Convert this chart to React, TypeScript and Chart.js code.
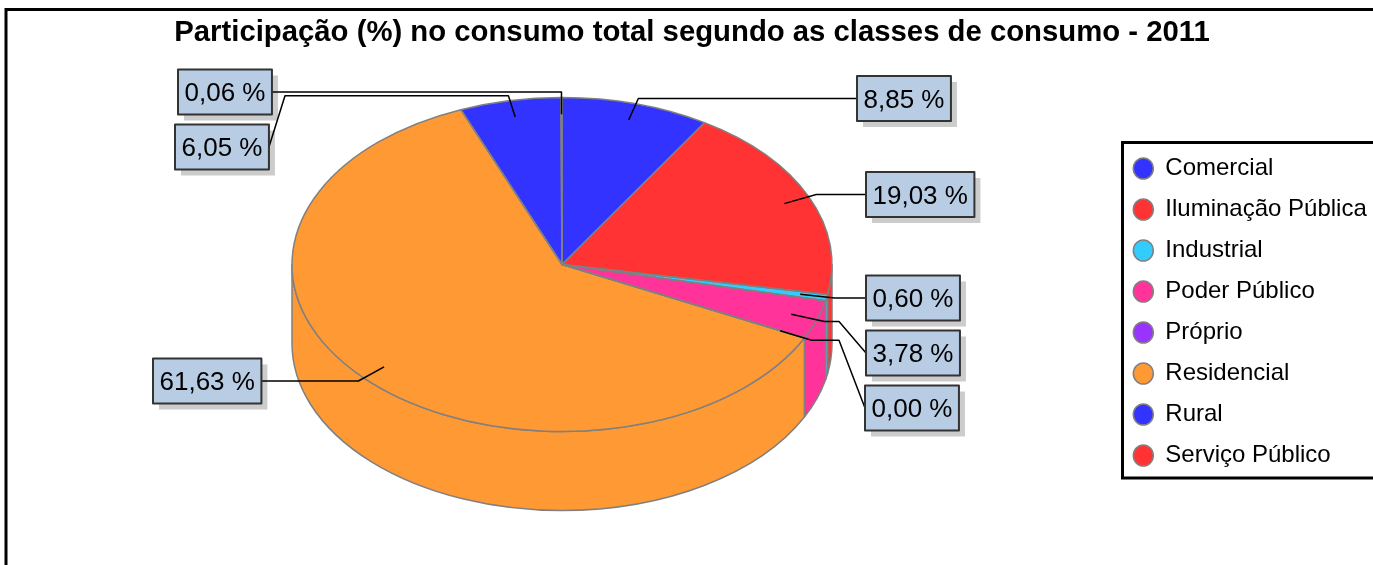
import React, { useEffect, useRef } from "react";
import { Chart, registerables } from "chart.js";

Chart.register(...registerables);

const chartTitle = "Participação (%) no consumo total segundo as classes de consumo - 2011";
const categories = ["Comercial", "Iluminação Pública", "Industrial", "Poder Público", "Próprio", "Residencial", "Rural", "Serviço Público"];
const shareValues = [8.85, 19.03, 0.6, 3.78, 0.0, 61.63, 6.05, 0.06];
const sliceColors = ["#3333ff", "#ff3333", "#33ccff", "#ff3399", "#9933ff", "#ff9933", "#3333ff", "#ff3333"];

// Layout of the value call-outs (same order as categories): box left, box top, optional knee x
const calloutLeft = [857, 866, 866, 866, 865, 153, 175, 178];
const calloutTop = [76, 172, 275.5, 330.5, 385.5, 358.5, 124.5, 69.5];
const calloutKnee: (number | null)[] = [null, null, null, 839, 839, null, 285, null];

const FONT = '"Liberation Sans", Arial, sans-serif';
const GREY = "#808080";
const CX = 562, CY = 264.5, RX = 270, RY = 167, DEPTH = 79;
const W = 1373, H = 565;

const pie3d = {
  id: "pie3d",
  beforeDraw(chart: any) {
    const { ctx } = chart;
    ctx.save();
    ctx.fillStyle = "#ffffff";
    ctx.fillRect(0, 0, W, H);
    ctx.strokeStyle = "#000000";
    ctx.lineWidth = 3;
    ctx.strokeRect(6, 9.5, W + 40, H + 40);
    ctx.strokeRect(1122.5, 142.5, W, 335.5);
    ctx.restore();
  },
  afterLayout(chart: any) {
    const l = chart.legend;
    l.left = 1116.3; l.right = W; l.top = 139.5; l.bottom = H;
    const t = chart.titleBlock;
    t.left = 11; t.right = W;
    t.top = 33 - (t.options.font.size * 1.2) / 2;
  },
  beforeDatasetsDraw(chart: any) {
    const { ctx } = chart;
    const arcs = chart.getDatasetMeta(0).data;
    ctx.save();
    ctx.lineWidth = 1.5;
    ctx.strokeStyle = GREY;
    ctx.lineJoin = "round";
    arcs.forEach((arc: any, i: number) => {
      // side wall: only the front half of the ellipse is visible
      const a = Math.max(arc.startAngle, 0);
      const b = Math.min(arc.endAngle, Math.PI);
      if (b <= a) return;
      ctx.beginPath();
      ctx.ellipse(CX, CY, RX, RY, 0, a, b, false);
      ctx.ellipse(CX, CY + DEPTH, RX, RY, 0, b, a, true);
      ctx.closePath();
      ctx.fillStyle = sliceColors[i];
      ctx.fill();
      ctx.stroke();
    });
    ctx.restore();
    ctx.save();
    const r = arcs[0].outerRadius;
    ctx.translate(CX, CY);
    ctx.scale(RX / r, RY / r);
    ctx.translate(-arcs[0].x, -arcs[0].y);
  },
  afterDatasetsDraw(chart: any) {
    const { ctx } = chart;
    ctx.restore();
    const arcs = chart.getDatasetMeta(0).data;
    ctx.save();
    ctx.lineWidth = 1.5;
    ctx.strokeStyle = GREY;
    ctx.lineJoin = "round";
    arcs.forEach((arc: any) => {
      ctx.beginPath();
      ctx.moveTo(CX, CY);
      ctx.ellipse(CX, CY, RX, RY, 0, arc.startAngle, arc.endAngle, false);
      ctx.closePath();
      ctx.stroke();
    });

    ctx.font = `26px ${FONT}`;
    const boxes = shareValues.map((v, i) => {
      const text = v.toFixed(2).replace(".", ",") + " %";
      const w = ctx.measureText(text).width + 13;
      return { text, x: calloutLeft[i], y: calloutTop[i], w, h: 45 };
    });

    // shadows sit below the leaders
    boxes.forEach((b) => {
      ctx.fillStyle = "#cccccc";
      ctx.fillRect(b.x + 6, b.y + 6, b.w, b.h);
    });

    // leaders
    ctx.strokeStyle = "#000000";
    ctx.lineWidth = 1.5;
    arcs.forEach((arc: any, i: number) => {
      const mid = (arc.startAngle + arc.endAngle) / 2;
      const px = (f: number) => CX + RX * f * Math.cos(mid);
      const py = (f: number) => CY + RY * f * Math.sin(mid);
      const box = boxes[i];
      const midY = box.y + box.h / 2;
      const onLeft = box.x < CX;
      const edge = onLeft ? box.x + box.w : box.x;
      ctx.beginPath();
      ctx.moveTo(px(0.9), py(0.9));
      const knee = calloutKnee[i];
      if (knee === null) {
        ctx.lineTo(px(1.03), midY);
      } else {
        ctx.lineTo(px(1.03), py(1.03));
        ctx.lineTo(knee, py(1.03));
      }
      ctx.lineTo(edge, midY);
      ctx.stroke();
    });

    // boxes
    boxes.forEach((b) => {
      ctx.fillStyle = "#b8cce4";
      ctx.fillRect(b.x, b.y, b.w, b.h);
      ctx.strokeStyle = "#333333";
      ctx.lineWidth = 2;
      ctx.strokeRect(b.x, b.y, b.w, b.h);
      ctx.fillStyle = "#000000";
      ctx.textAlign = "center";
      ctx.textBaseline = "middle";
      ctx.fillText(b.text, b.x + b.w / 2, b.y + b.h / 2 + 2);
    });
    ctx.restore();
  },
};

export default function App() {
  const ref = useRef<HTMLCanvasElement>(null);
  useEffect(() => {
    document.body.style.margin = "0";
    const chart = new Chart(ref.current as HTMLCanvasElement, {
      type: "pie",
      data: {
        labels: categories,
        datasets: [{ data: shareValues, backgroundColor: sliceColors, borderWidth: 0, clip: false } as any],
      },
      options: {
        responsive: false,
        animation: false,
        devicePixelRatio: 1,
        events: [],
        plugins: {
          title: {
            display: true,
            text: chartTitle,
            color: "#000000",
            padding: 0,
            font: { family: FONT, size: 29.3, weight: "bold", lineHeight: 1.2 },
          },
          legend: {
            display: true,
            position: "right",
            align: "start",
            labels: {
              usePointStyle: true,
              pointStyleWidth: 20,
              boxHeight: 15,
              padding: 17,
              color: "#000000",
              font: { family: FONT, size: 24 },
              generateLabels: () =>
                categories.map((text, i) => ({
                  text,
                  fillStyle: sliceColors[i],
                  strokeStyle: GREY,
                  lineWidth: 1.5,
                  pointStyle: "circle",
                  hidden: false,
                  index: i,
                })),
            },
          },
          tooltip: { enabled: false },
        },
      } as any,
      plugins: [pie3d],
    });
    return () => chart.destroy();
  }, []);
  return <canvas ref={ref} width={W} height={H} style={{ display: "block" }} />;
}
